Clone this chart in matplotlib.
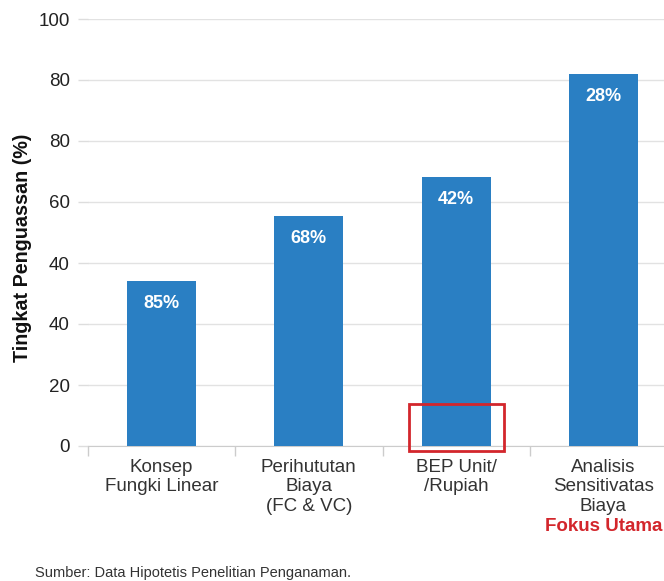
import matplotlib
matplotlib.use("Agg")
import matplotlib.pyplot as plt
from matplotlib.patches import Rectangle
from matplotlib import transforms
import numpy as np

plt.rcParams['font.family'] = ['Liberation Sans', 'DejaVu Sans']

# data (axis 0-100, grid every 100/7)
kategori = ["Konsep\nFungki Linear", "Perihututan\nBiaya\n(FC & VC)",
            "BEP Unit/\n/Rupiah", "Analisis\nSensitivatas\nBiaya"]
nilai = [38.6, 53.9, 63.0, 87.1]
label_persen = ["85%", "68%", "42%", "28%"]
ytick_pos = np.linspace(0, 100, 8)
ytick_lab = ["0", "20", "40", "40", "60", "80", "80", "100"]

biru = "#2a7fc3"
merah = "#d3262c"
abu = "#333333"

fig = plt.figure(figsize=(6.64, 5.81), dpi=100)
ax = fig.add_axes([88/664, (581-446)/581, (677-88)/664, (446-19)/581])

x = np.arange(len(kategori))
ax.bar(x, nilai, width=0.47, color=biru, zorder=3)

# label persen di dalam batang
for xi, v, t in zip(x, nilai, label_persen):
    ax.annotate(t, (xi, v), xytext=(0, -16), textcoords="offset points",
                ha="center", va="center", color="white", fontsize=13,
                fontweight="bold", zorder=4)

ax.set_xlim(-0.5, 3.5)
ax.set_ylim(0, 100)
ax.set_yticks(ytick_pos)
ax.set_yticklabels(ytick_lab)
ax.set_xticks(x)
ax.set_xticklabels(kategori, fontsize=13.5, color=abu, linespacing=1.22)
ax.set_xticks(np.arange(-0.5, 4, 1), minor=True)

ax.tick_params(axis="x", which="major", length=0, pad=9)
ax.tick_params(axis="x", which="minor", length=7, color="#cccccc", width=1)
ax.tick_params(axis="y", length=7, color="#dddddd", width=1, pad=6,
               labelsize=13.5, labelcolor="#222222")

ax.yaxis.grid(True, color="#e2e2e2", lw=1, zorder=0)
for s in ["top", "right", "left"]:
    ax.spines[s].set_visible(False)
ax.spines["bottom"].set_color("#cccccc")

ax.set_ylabel("Tingkat Penguassan (%)", fontsize=14.2, fontweight="bold",
              color="#111111")
ax.yaxis.set_label_coords(-0.095, 0.465)

# kotak merah di batang BEP
kotak = Rectangle((2 - 0.323, -1.2), 0.646, 11, fill=False, edgecolor=merah,
                  lw=2, zorder=5, clip_on=False)
ax.add_patch(kotak)

# teks "Fokus Utama" di bawah label kategori terakhir
tr = transforms.blended_transform_factory(ax.transData, ax.transAxes)
ax.annotate("Fokus Utama", (3, 0), xycoords=tr, xytext=(0, -58),
            textcoords="offset points", ha="center", va="center",
            color=merah, fontsize=13.5, fontweight="bold")

fig.text(35/664, 1 - 573/581, "Sumber: Data Hipotetis Penelitian Penganaman.",
         fontsize=10.5, color="#333333", va="center", ha="left")

fig.savefig("out.png", dpi=100)
